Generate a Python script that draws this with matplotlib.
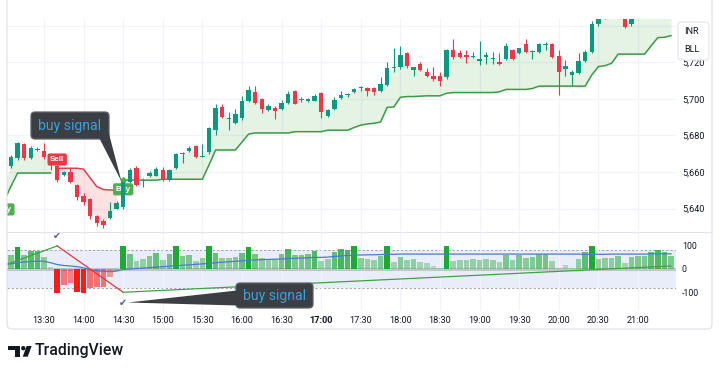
import matplotlib
matplotlib.use("Agg")
import matplotlib.pyplot as plt
from matplotlib.patches import FancyBboxPatch, Polygon, Circle, Rectangle
from matplotlib.lines import Line2D
from matplotlib.transforms import IdentityTransform
from matplotlib.ticker import FuncFormatter
import matplotlib.colors as mcolors
import numpy as np

plt.rcParams['font.family'] = ['Roboto', 'DejaVu Sans']

# ---------------- data ----------------
times = [f"{13 + (5 * i) // 60}:{(5 * i) % 60:02d}" for i in range(102)]   # 13:00 ... 21:25, 5-min candles

opens = [5648, 5663, 5667.6, 5675.2, 5667.6, 5672, 5671.2, 5668, 5663.2, 5658.3,
         5660, 5652.8, 5646.8, 5645, 5635.8, 5633, 5635, 5640, 5641, 5654.5,
         5662, 5655, 5657.7, 5658, 5661, 5655.5, 5662, 5670, 5671.5, 5674,
         5668.4, 5671, 5683, 5695.5, 5689, 5686.8, 5689.5, 5698.5, 5703.7, 5699.8,
         5694, 5695, 5694.3, 5697.5, 5704.5, 5699.3, 5698.7, 5698.7, 5703, 5690.5,
         5694.3, 5700.5, 5702, 5703.5, 5705.8, 5705.8, 5705.8, 5704, 5707.5, 5716.6,
         5717.3, 5724.9, 5715.7, 5718.9, 5714.6, 5712.4, 5712.4, 5711.8, 5726.6, 5725,
         5723.9, 5722.8, 5720.7, 5722.8, 5721.5, 5720, 5721.5, 5726.6, 5725, 5729.7,
         5725.5, 5725.5, 5729.6, 5729.9, 5723.3, 5716.2, 5713, 5714, 5720.6, 5725.5,
         5740.8, 5746, 5749, 5751, 5747, 5740.8, 5747, 5750, 5753, 5751,
         5755, 5756]
highs = [5656, 5669, 5676.5, 5676, 5674, 5673.5, 5676, 5669, 5664, 5660.5,
         5662, 5653.5, 5648.5, 5646, 5636.5, 5634.3, 5643.5, 5644, 5657, 5662,
         5663, 5656.5, 5660.5, 5662.5, 5662.5, 5661.5, 5670.5, 5671, 5674, 5674.5,
         5675, 5684.5, 5697, 5697, 5693, 5694.5, 5701.7, 5707, 5706.7, 5700.5,
         5697, 5696, 5699.5, 5704, 5705, 5700.7, 5700.5, 5702.5, 5703.5, 5694.5,
         5701, 5704, 5703, 5706, 5707, 5706.2, 5706.2, 5712, 5720, 5727.5,
         5728.6, 5725.5, 5717.5, 5720, 5717, 5717.5, 5714.5, 5727, 5732.5, 5726.6,
         5726.6, 5725.5, 5731.5, 5725.8, 5725.5, 5724.9, 5730.3, 5727, 5728, 5732.8,
         5726.5, 5730.5, 5731, 5730.3, 5726.6, 5721, 5715.5, 5725, 5726.6, 5742.6,
         5748, 5751, 5753, 5754, 5748, 5748, 5752, 5755, 5756, 5757,
         5758, 5760]
lows = [5646, 5662, 5666.5, 5666.4, 5667, 5671.5, 5667, 5661, 5654.5, 5658,
        5654, 5644.8, 5642, 5634.5, 5630.5, 5629.3, 5634.5, 5639.5, 5640, 5654,
        5652.5, 5652, 5657.2, 5657.5, 5655, 5655, 5661.5, 5665, 5671, 5667.5,
        5668, 5670, 5680, 5689.5, 5683, 5686, 5688.5, 5698, 5697, 5692,
        5693.5, 5689, 5694, 5697, 5697, 5698, 5698.3, 5698.5, 5689.5, 5690,
        5694, 5700, 5701, 5703, 5704.5, 5701.5, 5702, 5703.5, 5707, 5714.5,
        5716.5, 5717, 5712.5, 5715, 5712, 5709.8, 5707, 5711, 5722, 5722.3,
        5719.8, 5722.5, 5718.5, 5719, 5719, 5718.5, 5721, 5721, 5724.5, 5725,
        5721.5, 5725, 5726.6, 5722.5, 5702, 5712.5, 5707.5, 5713.5, 5720, 5725,
        5740, 5743.5, 5746, 5747, 5738.5, 5740, 5745, 5747.5, 5749, 5749.5,
        5752, 5754]
closes = [5655, 5668.3, 5675.8, 5667.6, 5673, 5672.2, 5667.9, 5664, 5655.5, 5660.2,
          5654.5, 5646.3, 5643.5, 5635.8, 5632, 5631, 5638.5, 5643, 5654.5, 5661,
          5653, 5655.5, 5659.5, 5661.5, 5655.5, 5661, 5669.8, 5670.3, 5673, 5668,
          5668.7, 5684, 5695, 5690, 5689.3, 5691.5, 5698.7, 5704.8, 5697.7, 5694.3,
          5696, 5693.5, 5697.5, 5702.8, 5697.2, 5699.5, 5700, 5701.5, 5692.7, 5693.8,
          5699.5, 5702.3, 5702.2, 5705.5, 5706, 5704.2, 5703.6, 5708, 5716.8, 5716.9,
          5723.9, 5717.9, 5717.3, 5715.7, 5712.4, 5710.8, 5709.7, 5726.6, 5722.8, 5722.8,
          5722.8, 5723.6, 5721.5, 5723.9, 5722.5, 5718.9, 5728.7, 5721.5, 5727.6, 5725.5,
          5726.3, 5729.7, 5729.9, 5722.8, 5714.6, 5717.8, 5714.6, 5720.6, 5725.5, 5740.8,
          5746, 5749, 5751, 5748, 5739.2, 5747, 5750, 5753, 5751, 5755,
          5756, 5758]

# trailing stop (supertrend-like) line and its direction
stop_line = [5644.5, 5652.2, 5659.4, 5659.4, 5659.4, 5659.4, 5659.4, 5659.4, 5662, 5662,
             5662, 5662, 5661.5, 5656.7, 5652, 5650.4, 5650.1, 5650.1, 5655.5, 5655.5,
             5655.5, 5655.5, 5655.5, 5655.5, 5656, 5656, 5656, 5656, 5656, 5656,
             5656, 5663.8, 5672, 5672, 5672, 5672, 5676.3, 5680.7, 5681.3, 5681.3,
             5681.3, 5681.3, 5681.3, 5681.3, 5682, 5682, 5682, 5682, 5682, 5682.8,
             5682.8, 5682.8, 5682.8, 5684.3, 5685.6, 5686.2, 5686.6, 5687.3, 5695.3, 5695.5,
             5700.8, 5701.2, 5701.2, 5701.4, 5701.6, 5701.6, 5701.6, 5703, 5703.4, 5703.4,
             5703.4, 5703.4, 5703.4, 5703.4, 5703.4, 5703.8, 5705.1, 5705.1, 5705.1, 5705.1,
             5705.6, 5706.9, 5706.9, 5706.9, 5706.9, 5706.9, 5706.9, 5706.9, 5706.9, 5713,
             5717.6, 5718.1, 5719.4, 5724.4, 5724.4, 5724.4, 5724.4, 5724.4, 5729, 5733.4,
             5733.6, 5734.5]
trend = ['up'] * 8 + ['down'] * 10 + ['up'] * 84

# oscillator pane
osc_hist = [45, 60, 93, 60, 77, 77, 50, 8, -101, -69,
            -59, -97, -101, -83, -76, -76, -33, -10, 99, 64,
            36, 41, 56, 70, 39, 64, 99, 56, 60, 36,
            46, 99, 70, 46, 46, 53, 70, 93, 64, 46,
            41, 41, 64, 86, 60, 60, 64, 79, 36, 41,
            72, 86, 81, 99, 49, 41, 39, 56, 99, 31,
            53, 39, 43, 29, 24, 14, 6, 99, 34, 37,
            37, 41, 39, 41, 39, 29, 60, 39, 60, 49,
            53, 63, 63, 34, 3, 17, 3, 43, 74, 99,
            43, 46, 46, 56, 27, 53, 57, 57, 71, 81,
            71, 56]
osc_signal = [20, 22, 27, 30, 32, 34, 33, 27, 19, 15,
              13, 10, 5, -3, -8, -10, -11, -9, -2, 0,
              2, 4, 6, 8, 10, 12, 14, 16, 18, 20,
              22, 24, 27, 29, 31, 33, 35, 38, 39, 40,
              41, 42, 43, 45, 46, 47, 48, 50, 50, 51,
              54, 56, 58, 60, 60, 61, 61, 62, 63, 63,
              64, 64, 64, 64, 64, 64, 64, 64, 64, 64,
              64, 64, 64, 64, 64, 64, 64, 64, 64, 64,
              64, 64, 64, 64, 64, 64, 64, 64, 63, 63,
              63, 63, 64, 64, 64, 64, 64, 64, 65, 65,
              65, 65]
pivot_times = ["13:00", "13:40", "14:30", "21:25"]
pivot_values = [16, 99, -100, 13]
band_upper, band_lower = 80, -80

tick_labels = ["13:30", "14:00", "14:30", "15:00", "15:30", "16:00", "16:30", "17:00",
               "17:30", "18:00", "18:30", "19:00", "19:30", "20:00", "20:30", "21:00"]
price_ticks = [5640, 5660, 5680, 5700, 5720, 5740]
hidden_price_labels = [5740]          # sits behind the INR/BLL legend box
osc_ticks = [-100, 0, 100]

# ---------------- figure ----------------
W, H = 720, 373
fig = plt.figure(figsize=(7.2, 3.73), dpi=100)
fig.patch.set_facecolor('white')
ID = IdentityTransform()

def P(x, y):
    return (x, H - y)

UP, DN = '#089981', '#f23645'
GRID = '#f0f3fa'
TXT = '#131722'

idx = np.arange(len(times))
o, h, l, c = map(np.array, (opens, highs, lows, closes))
stop = np.array(stop_line)
tick_pos = [times.index(t) for t in tick_labels]
XLIM = (0.394, 101.76)

ax = fig.add_axes([7 / W, 1 - 231 / H, 669 / W, 212 / H])
ax.set_xlim(*XLIM)
ax.set_ylim(5627.7, 5743.6)
for s in ax.spines.values():
    s.set_visible(False)
ax.set_yticks(price_ticks)
ax.set_xticks(tick_pos)
ax.grid(True, color=GRID, lw=0.9, zorder=0)
ax.set_axisbelow(True)
ax.yaxis.tick_right()
ax.yaxis.set_major_formatter(FuncFormatter(
    lambda v, p: "" if round(v) in hidden_price_labels else f"{v:,.0f}"))
ax.tick_params(axis='y', length=0, pad=4.3, labelsize=6.6, labelcolor=TXT)
ax.tick_params(axis='x', length=0, labelbottom=False)

# trend segments
segs = []
start = 0
for i in range(1, len(trend) + 1):
    if i == len(trend) or trend[i] != trend[start]:
        segs.append((start, i - 1, trend[start]))
        start = i
mid = (o + c) / 2
for s, e, d in segs:
    col_line = '#3b9a44' if d == 'up' else '#d8424c'
    col_fill = '#4caf50' if d == 'up' else '#f23645'
    ax.fill_between(idx[s:e + 1], stop[s:e + 1], mid[s:e + 1], color=col_fill,
                    alpha=0.15, lw=0, zorder=1)
    ax.plot(idx[s:e + 1], stop[s:e + 1], color=col_line, lw=1.1, zorder=2,
            solid_joinstyle='round')

# candles
cols = np.where(c >= o, UP, DN)
ax.vlines(idx, l, h, colors=cols, lw=0.8, zorder=3)
ax.bar(idx, np.maximum(np.abs(c - o), 0.5), bottom=np.minimum(o, c), width=0.68,
       color=cols, lw=0, zorder=4)

# signal labels
def sig_label(t, text, color, dy, z):
    i = times.index(t)
    a = ax.annotate(text, (i, stop[i]), xytext=(0, dy), textcoords='offset points',
                    ha='center', va='center', fontsize=5.8, fontweight='bold',
                    color='white', family=['Liberation Sans', 'DejaVu Sans'],
                    bbox=dict(boxstyle='round,pad=0.32,rounding_size=0.25', fc=color, ec='none'),
                    zorder=z, annotation_clip=False, clip_on=True)
    return a

sig_label("13:00", "Buy", '#4caf50', -6.6, 3.5)
sig_label("14:30", "Buy", '#4caf50', -6.6, 3.5)
sig_label("13:40", "Sell", '#f23645', 6.3, 5)
ax.plot(times.index("14:30"), stop[times.index("14:30")], 'o', ms=3.2, color='#4caf50', zorder=3.6)

# ---------------- oscillator pane ----------------
ax2 = fig.add_axes([7 / W, 1 - 311 / H, 669 / W, 79 / H])
ax2.set_xlim(*XLIM)
ax2.set_ylim(-180.3, 158.8)
for s in ax2.spines.values():
    s.set_visible(False)
ax2.set_xticks(tick_pos)
ax2.set_xticklabels(tick_labels)
ax2.grid(True, axis='x', color=GRID, lw=0.9, zorder=0)
ax2.set_axisbelow(True)
ax2.set_yticks(osc_ticks)
ax2.yaxis.tick_right()
ax2.yaxis.set_major_formatter(FuncFormatter(lambda v, p: f"{int(v)}"))
ax2.tick_params(axis='y', length=0, pad=4.3, labelsize=6.3, labelcolor=TXT)
ax2.tick_params(axis='x', length=0, pad=3.8, labelsize=6.6, labelcolor=TXT)
for lab in ax2.get_xticklabels():
    if lab.get_text() == "17:00":
        lab.set_fontweight('bold')

ax2.axhspan(band_lower, band_upper, color='#e9edf9', lw=0, zorder=0.2)
ax2.axhline(band_upper, color='#9aa0ab', lw=0.7, ls=(0, (2.2, 2.2)), zorder=0.5)
ax2.axhline(band_lower, color='#9aa0ab', lw=0.7, ls=(0, (2.2, 2.2)), zorder=0.5)
ax2.axhline(2, color='#9e9e9e', lw=2.2, alpha=0.5, zorder=0.6)

hist = np.array(osc_hist, dtype=float)
bar_cols = []
for v in hist:
    if v >= 0:
        a = 1.0 if v >= 90 else float(np.interp(v, [0, 40, 60, 85], [0.2, 0.42, 0.55, 0.8]))
        bar_cols.append(mcolors.to_rgba('#1ea834', a))
    else:
        a = 1.0 if v <= -90 else float(np.interp(-v, [0, 40, 85], [0.25, 0.45, 0.62]))
        bar_cols.append(mcolors.to_rgba('#ff1a1a', a))
ax2.bar(idx, hist, width=0.86, color=bar_cols, lw=0, zorder=1)
ax2.plot(idx, osc_signal, color='#4a7bd0', lw=0.9, zorder=3)

piv_i = [times.index(t) for t in pivot_times]
for k in range(len(piv_i) - 1):
    col = '#43a047' if pivot_values[k + 1] > pivot_values[k] else '#e53935'
    ax2.plot(piv_i[k:k + 2], pivot_values[k:k + 2], color=col, lw=0.9, zorder=4)
for k, dy in ((1, 7.0), (2, -7.6)):
    ax2.annotate('✔', (piv_i[k], pivot_values[k]), xytext=(0, dy), textcoords='offset points',
                 ha='center', va='center', fontsize=7, color='#5b5ea6',
                 family=['DejaVu Sans'], zorder=6, annotation_clip=False)

# ---------------- chrome ----------------
frame = FancyBboxPatch(P(7, 329), 705, 360, boxstyle='round,pad=0,rounding_size=5',
                       transform=ID, fc='none', ec='#e0e3eb', lw=0.9, zorder=1)
fig.add_artist(frame)
fig.add_artist(Line2D([7, 712], [H - 231.5, H - 231.5], transform=ID, color='#e0e3eb', lw=0.8))

box = FancyBboxPatch(P(678, 60), 31, 38, boxstyle='round,pad=0,rounding_size=3',
                     transform=ID, fc='white', ec='#e0e3eb', lw=0.8, zorder=10)
fig.add_artist(box)
fig.text(684, H - 32, "INR", transform=ID, fontsize=6.6, color=TXT, va='center', zorder=11)
fig.text(684, H - 50, "BLL", transform=ID, fontsize=6.6, color=TXT, va='center', zorder=11)

def callout(x0, y0, x1, y1, tail, z=20):
    fig.add_artist(FancyBboxPatch(P(x0, y1), x1 - x0, y1 - y0,
                                  boxstyle='round,pad=0,rounding_size=4', transform=ID,
                                  fc='#3b3e42', ec='#5f6367', lw=0.9, zorder=z))
    fig.add_artist(Polygon([P(*q) for q in tail], closed=True, transform=ID,
                           fc='#3b3e42', ec='none', zorder=z + 1))
    fig.text((x0 + x1) / 2, H - (y0 + y1) / 2 - 0.5, "buy signal", transform=ID,
             ha='center', va='center', fontsize=10.1, color='#3c9fda', zorder=z + 2)

callout(31, 112, 109, 139, [(99.5, 138.5), (108.5, 132), (121.5, 181.5)])
callout(236, 283, 313, 308, [(237, 290.5), (128, 302.5), (237, 305.5)])

# TradingView logo
logo_col = '#131722'
fig.add_artist(Rectangle(P(8.3, 350), 11.7, 4, transform=ID, fc=logo_col, ec='none'))
fig.add_artist(Rectangle(P(15, 356.7), 5, 10.7, transform=ID, fc=logo_col, ec='none'))
fig.add_artist(Circle(P(23.3, 348.2), 2.2, transform=ID, fc=logo_col, ec='none'))
fig.add_artist(Polygon([P(22.7, 356.7), P(27.7, 356.7), P(31.7, 346), P(26.7, 346)],
                       closed=True, transform=ID, fc=logo_col, ec='none'))
fig.text(35, H - 355.3, "TradingView", transform=ID, fontsize=11.3, fontweight='medium',
         color=logo_col, va='baseline', ha='left')

fig.savefig('out.png', dpi=100)
